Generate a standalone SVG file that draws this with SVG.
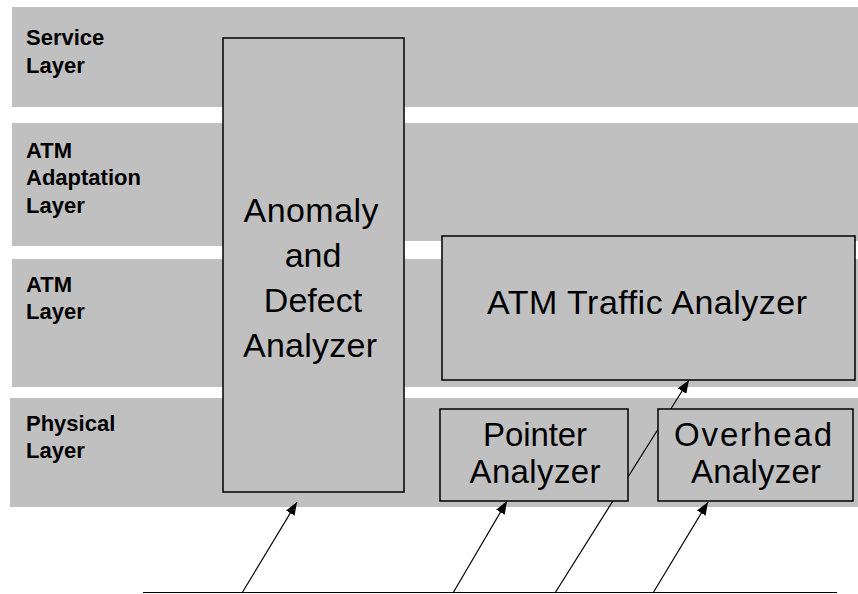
<svg xmlns="http://www.w3.org/2000/svg" width="858" height="594" viewBox="0 0 858 594">
<style>
.band{fill:#c0c0c0}
.box{fill:#c0c0c0;stroke:#000;stroke-width:1.5}
.lbl{font-family:"Liberation Sans",Arial,sans-serif;font-weight:bold;font-size:22px;fill:#000}
.big{font-family:"Liberation Sans",Arial,sans-serif;font-size:34px;fill:#000;text-anchor:middle}
.mid{font-family:"Liberation Sans",Arial,sans-serif;font-size:33px;fill:#000;text-anchor:middle}
.conn{stroke:#000;stroke-width:1.2;fill:none}
</style>
<defs>
<marker id="ah" markerUnits="userSpaceOnUse" markerWidth="14" markerHeight="10" refX="13" refY="5" orient="auto">
<path d="M0,0 L13,5 L0,10 z" fill="#000"/>
</marker>
</defs>
<rect width="858" height="594" fill="#fff"/>
<g id="layers">
<rect class="band" x="12" y="7" width="846" height="100"/>
<rect class="band" x="12" y="123" width="211" height="123"/>
<rect class="band" x="223" y="123" width="635" height="118"/>
<rect class="band" x="12" y="259" width="846" height="128"/>
<rect class="band" x="10" y="398" width="848" height="109"/>
<text class="lbl" x="26" y="45">Service</text>
<text class="lbl" x="26" y="73">Layer</text>
<text class="lbl" x="26" y="158">ATM</text>
<text class="lbl" x="26" y="185">Adaptation</text>
<text class="lbl" x="26" y="213">Layer</text>
<text class="lbl" x="26" y="292">ATM</text>
<text class="lbl" x="26" y="319">Layer</text>
<text class="lbl" x="26" y="431">Physical</text>
<text class="lbl" x="26" y="458">Layer</text>
</g>
<g id="connectors">
<line class="conn" x1="143" y1="592.5" x2="837" y2="592.5"/>
<line class="conn" x1="242" y1="593" x2="297" y2="502" marker-end="url(#ah)"/>
<line class="conn" x1="453" y1="593" x2="507" y2="501" marker-end="url(#ah)"/>
<line class="conn" x1="555" y1="593" x2="689" y2="380" marker-end="url(#ah)"/>
<line class="conn" x1="653" y1="593" x2="708" y2="502" marker-end="url(#ah)"/>
</g>
<g id="anomaly">
<rect class="box" x="223" y="38" width="181" height="454"/>
<text class="big" x="311" y="222" textLength="135">Anomaly</text>
<text class="big" x="313" y="267">and</text>
<text class="big" x="313" y="312">Defect</text>
<text class="big" x="310" y="357" textLength="134">Analyzer</text>
</g>
<g id="atm-traffic">
<rect class="box" x="442" y="236" width="413" height="144"/>
<text class="big" x="647" y="314" textLength="320">ATM Traffic Analyzer</text>
</g>
<g id="pointer">
<rect class="box" x="440" y="409" width="188" height="92"/>
<text class="mid" x="535" y="446" textLength="104">Pointer</text>
<text class="mid" x="535" y="483" textLength="131">Analyzer</text>
</g>
<g id="overhead">
<rect class="box" x="658" y="409" width="195" height="92"/>
<text class="mid" x="753" y="446" textLength="158">Overhead</text>
<text class="mid" x="756" y="483" textLength="130">Analyzer</text>
</g>
</svg>
